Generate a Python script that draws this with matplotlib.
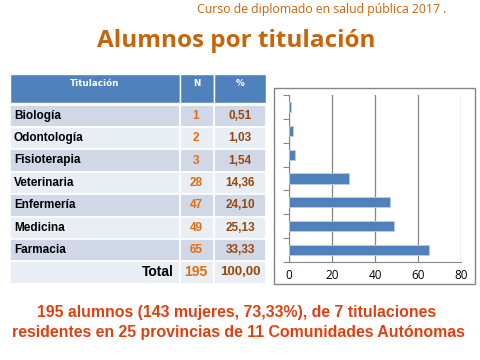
import matplotlib
matplotlib.use("Agg")
import matplotlib.pyplot as plt
from matplotlib.patches import Rectangle

# --- datos ---
titulaciones = ["Biología", "Odontología", "Fisioterapia", "Veterinaria",
                "Enfermería", "Medicina", "Farmacia"]
n_alumnos = [1, 2, 3, 28, 47, 49, 65]
porcentajes = ["0,51", "1,03", "1,54", "14,36", "24,10", "25,13", "33,33"]
total_n = "195"
total_pct = "100,00"
cabeceras = ["Titulación", "N", "%"]
x_ticks = [0, 20, 40, 60, 80]

subtitulo = "Curso de diplomado en salud pública 2017 ."
titulo = "Alumnos por titulación"
resumen = ["195 alumnos (143 mujeres, 73,33%), de 7 titulaciones",
           "residentes en 25 provincias de 11 Comunidades Autónomas"]

# --- colores ---
naranja = "#C8640A"
azul_cab = "#4F81BD"
fila_osc = "#D0D8E8"
fila_cla = "#E9EDF4"
col_n = "#E46C0A"
col_pct = "#984807"
rojo = "#E0400E"

fig = plt.figure(figsize=(4.8, 3.6), dpi=100)
fig.patch.set_facecolor("white")

# capa en pixeles para textos y tabla
ax0 = fig.add_axes([0, 0, 1, 1])
ax0.set_xlim(0, 480)
ax0.set_ylim(360, 0)
ax0.axis("off")

ax0.text(446, 10, subtitulo, color=naranja, fontsize=8.8, family="Open Sans",
         ha="right", va="center")
ax0.text(236, 41, titulo, color=naranja, fontsize=17.5, family="Open Sans",
         fontweight="bold", ha="center", va="center")
ax0.text(237, 313, resumen[0], color=rojo, fontsize=11.4, family="Liberation Sans",
         fontweight="bold", ha="center", va="center")
ax0.text(238, 332, resumen[1], color=rojo, fontsize=11.4, family="Liberation Sans",
         fontweight="bold", ha="center", va="center")

# --- tabla ---
col_x = [10, 180, 214, 266]
y_top, h_cab, h_fila = 74, 29, 22.4
for j in range(3):
    ax0.add_patch(Rectangle((col_x[j], y_top), col_x[j + 1] - col_x[j], h_cab,
                            facecolor=azul_cab, edgecolor="white", lw=1))
for j in range(3):
    ax0.text((col_x[j] + col_x[j + 1]) / 2, y_top + 10, cabeceras[j], color="white",
             fontsize=6.3, fontweight="bold", ha="center", va="center")

filas = list(zip(titulaciones, [str(v) for v in n_alumnos], porcentajes))
filas.append(("Total", total_n, total_pct))
y0 = y_top + h_cab + 1.5
for i, (nom, n, p) in enumerate(filas):
    y = y0 + i * h_fila
    color = fila_osc if i % 2 == 0 else fila_cla
    for j in range(3):
        ax0.add_patch(Rectangle((col_x[j], y), col_x[j + 1] - col_x[j], h_fila,
                                facecolor=color, edgecolor="white", lw=1.2))
    yc = y + h_fila / 2
    es_total = nom == "Total"
    if es_total:
        ax0.text(174, yc, nom, fontsize=10, fontweight="bold", family="Liberation Sans",
                 ha="right", va="center", color="black")
    else:
        ax0.text(14, yc, nom, fontsize=8.5, fontweight="bold", family="Liberation Sans",
                 ha="left", va="center", color="black")
    ax0.text(196, yc, n, fontsize=10 if es_total else 8.5, fontweight="bold",
             family="Liberation Sans", ha="center", va="center", color=col_n)
    ax0.text(240, yc, p, fontsize=9.5 if es_total else 8.5, fontweight="bold",
             family="Liberation Sans", ha="center", va="center", color=col_pct)

# marco del grafico
ax0.add_patch(Rectangle((274, 88), 201, 196, facecolor="none",
                        edgecolor="#868686", lw=1))

# --- grafico de barras ---
ax = fig.add_axes([289 / 480, 1 - 262 / 360, 172 / 480, 167 / 360])
pos = list(range(len(titulaciones)))
ax.barh(pos, n_alumnos, height=0.42, color="#4F81BD", edgecolor="#B9CDE5", lw=0.6,
        zorder=3)
ax.set_ylim(len(titulaciones) - 0.5, -0.5)
ax.set_xlim(0, 80)
ax.set_xticks(x_ticks)
ax.set_xticklabels([str(t) for t in x_ticks], fontsize=8.5, family="Open Sans")
ax.tick_params(axis="x", length=0, pad=5)
ax.set_yticks([p - 0.5 for p in pos] + [len(pos) - 0.5])
ax.set_yticklabels([])
ax.tick_params(axis="y", length=4, direction="out", color="#868686", width=0.8)
ax.grid(axis="x", color="#868686", lw=0.9, zorder=0)
for s in ["top", "right"]:
    ax.spines[s].set_visible(False)
ax.spines["left"].set_color("#868686")
ax.spines["bottom"].set_color("#868686")
ax.set_facecolor("none")

fig.savefig("out.png", dpi=100)
